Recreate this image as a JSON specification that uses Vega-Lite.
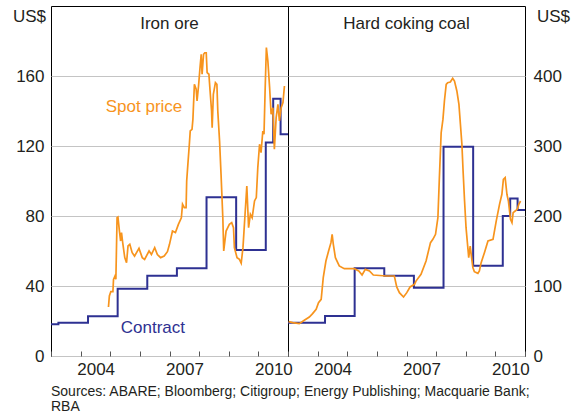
{
  "$schema": "https://vega.github.io/schema/vega-lite/v6.json",
  "background": "white",
  "padding": {"left": 11, "top": 5, "right": 5, "bottom": 0},
  "autosize": {"type": "pad"},
  "config": {
    "font": "Liberation Sans",
    "view": {"stroke": "#000000", "strokeWidth": 1},
    "axis": {"labelFont": "Liberation Sans", "labelFontSize": 17, "labelColor": "#231f20", "titleFont": "Liberation Sans", "titleFontSize": 17, "titleFontWeight": "normal", "titleColor": "#231f20", "domain": false},
    "axisX": {"labelOverlap": false, "labelFlush": false, "labelBound": false, "offset": -5, "tickSize": 5, "ticks": true, "tickColor": "#555555", "labelOffset": 15, "labelPadding": 5},
    "title": {"font": "Liberation Sans", "fontWeight": "normal", "color": "#231f20"}
  },
  "title": {
    "text": ["Sources: ABARE; Bloomberg; Citigroup; Energy Publishing; Macquarie Bank;", "\u00a0\u00a0\u00a0\u00a0\u00a0\u00a0\u00a0\u00a0\u00a0\u00a0\u00a0\u00a0\u00a0\u00a0\u00a0RBA"],
    "orient": "bottom",
    "anchor": "start",
    "frame": "group",
    "fontSize": 14,
    "lineHeight": 15,
    "offset": 7
  },
  "spacing": 0,
  "bounds": "flush",
  "datasets": {
    "iron": [
      {"s": "Contract", "year": 2003.0, "value": 18.1},
      {"s": "Contract", "year": 2003.25, "value": 19.0},
      {"s": "Contract", "year": 2004.25, "value": 22.7},
      {"s": "Contract", "year": 2005.25, "value": 38.5},
      {"s": "Contract", "year": 2006.25, "value": 45.9},
      {"s": "Contract", "year": 2007.25, "value": 50.1},
      {"s": "Contract", "year": 2008.25, "value": 90.7},
      {"s": "Contract", "year": 2009.25, "value": 60.6},
      {"s": "Contract", "year": 2010.25, "value": 122},
      {"s": "Contract", "year": 2010.5, "value": 147},
      {"s": "Contract", "year": 2010.75, "value": 126.7},
      {"s": "Contract", "year": 2011.0, "value": 126.7},
      {"s": "Spot", "year": 2004.94, "value": 28},
      {"s": "Spot", "year": 2004.97, "value": 34.3},
      {"s": "Spot", "year": 2005.02, "value": 36.8},
      {"s": "Spot", "year": 2005.09, "value": 36.8},
      {"s": "Spot", "year": 2005.11, "value": 43.8},
      {"s": "Spot", "year": 2005.17, "value": 46.1},
      {"s": "Spot", "year": 2005.19, "value": 43.8},
      {"s": "Spot", "year": 2005.23, "value": 79},
      {"s": "Spot", "year": 2005.26, "value": 79.4},
      {"s": "Spot", "year": 2005.31, "value": 71.4},
      {"s": "Spot", "year": 2005.35, "value": 65.7},
      {"s": "Spot", "year": 2005.38, "value": 70.5},
      {"s": "Spot", "year": 2005.42, "value": 64.8},
      {"s": "Spot", "year": 2005.49, "value": 56.2},
      {"s": "Spot", "year": 2005.55, "value": 53.3},
      {"s": "Spot", "year": 2005.6, "value": 62.9},
      {"s": "Spot", "year": 2005.66, "value": 63.8},
      {"s": "Spot", "year": 2005.74, "value": 59},
      {"s": "Spot", "year": 2005.82, "value": 57.1},
      {"s": "Spot", "year": 2005.97, "value": 61.5},
      {"s": "Spot", "year": 2006.08, "value": 56.2},
      {"s": "Spot", "year": 2006.16, "value": 55.2},
      {"s": "Spot", "year": 2006.31, "value": 60},
      {"s": "Spot", "year": 2006.39, "value": 58},
      {"s": "Spot", "year": 2006.5, "value": 61.9},
      {"s": "Spot", "year": 2006.59, "value": 58},
      {"s": "Spot", "year": 2006.7, "value": 56.2},
      {"s": "Spot", "year": 2006.82, "value": 57.1},
      {"s": "Spot", "year": 2006.93, "value": 59.6},
      {"s": "Spot", "year": 2007.0, "value": 63.8},
      {"s": "Spot", "year": 2007.1, "value": 71.4},
      {"s": "Spot", "year": 2007.2, "value": 70.5},
      {"s": "Spot", "year": 2007.3, "value": 75.2},
      {"s": "Spot", "year": 2007.4, "value": 79},
      {"s": "Spot", "year": 2007.44, "value": 86.7},
      {"s": "Spot", "year": 2007.5, "value": 84.8},
      {"s": "Spot", "year": 2007.56, "value": 84.8},
      {"s": "Spot", "year": 2007.58, "value": 100},
      {"s": "Spot", "year": 2007.62, "value": 109.5},
      {"s": "Spot", "year": 2007.67, "value": 121},
      {"s": "Spot", "year": 2007.7, "value": 128.6},
      {"s": "Spot", "year": 2007.76, "value": 129.5},
      {"s": "Spot", "year": 2007.79, "value": 135.2},
      {"s": "Spot", "year": 2007.84, "value": 155.2},
      {"s": "Spot", "year": 2007.9, "value": 152.4},
      {"s": "Spot", "year": 2007.93, "value": 145.7},
      {"s": "Spot", "year": 2007.98, "value": 154.3},
      {"s": "Spot", "year": 2008.03, "value": 164.8},
      {"s": "Spot", "year": 2008.07, "value": 172.4},
      {"s": "Spot", "year": 2008.1, "value": 161},
      {"s": "Spot", "year": 2008.15, "value": 172.4},
      {"s": "Spot", "year": 2008.19, "value": 173.3},
      {"s": "Spot", "year": 2008.24, "value": 173.3},
      {"s": "Spot", "year": 2008.27, "value": 161.9},
      {"s": "Spot", "year": 2008.33, "value": 161},
      {"s": "Spot", "year": 2008.37, "value": 151.4},
      {"s": "Spot", "year": 2008.42, "value": 140},
      {"s": "Spot", "year": 2008.44, "value": 130.5},
      {"s": "Spot", "year": 2008.48, "value": 149.5},
      {"s": "Spot", "year": 2008.55, "value": 156.2},
      {"s": "Spot", "year": 2008.6, "value": 155.2},
      {"s": "Spot", "year": 2008.63, "value": 140},
      {"s": "Spot", "year": 2008.69, "value": 122.9},
      {"s": "Spot", "year": 2008.74, "value": 103.8},
      {"s": "Spot", "year": 2008.8, "value": 79},
      {"s": "Spot", "year": 2008.83, "value": 60},
      {"s": "Spot", "year": 2008.91, "value": 71.4},
      {"s": "Spot", "year": 2009.02, "value": 75.2},
      {"s": "Spot", "year": 2009.1, "value": 76.2},
      {"s": "Spot", "year": 2009.16, "value": 73.3},
      {"s": "Spot", "year": 2009.19, "value": 61.9},
      {"s": "Spot", "year": 2009.28, "value": 56.2},
      {"s": "Spot", "year": 2009.36, "value": 55.2},
      {"s": "Spot", "year": 2009.42, "value": 53},
      {"s": "Spot", "year": 2009.48, "value": 61.9},
      {"s": "Spot", "year": 2009.55, "value": 81},
      {"s": "Spot", "year": 2009.61, "value": 97.1},
      {"s": "Spot", "year": 2009.67, "value": 73.3},
      {"s": "Spot", "year": 2009.73, "value": 81},
      {"s": "Spot", "year": 2009.79, "value": 79},
      {"s": "Spot", "year": 2009.87, "value": 88.6},
      {"s": "Spot", "year": 2009.93, "value": 90.5},
      {"s": "Spot", "year": 2009.98, "value": 107.6},
      {"s": "Spot", "year": 2010.04, "value": 121},
      {"s": "Spot", "year": 2010.09, "value": 116.2},
      {"s": "Spot", "year": 2010.15, "value": 128.6},
      {"s": "Spot", "year": 2010.19, "value": 126.7},
      {"s": "Spot", "year": 2010.23, "value": 153.3},
      {"s": "Spot", "year": 2010.27, "value": 176.2},
      {"s": "Spot", "year": 2010.32, "value": 168.6},
      {"s": "Spot", "year": 2010.38, "value": 153.3},
      {"s": "Spot", "year": 2010.43, "value": 138.1},
      {"s": "Spot", "year": 2010.49, "value": 141.9},
      {"s": "Spot", "year": 2010.54, "value": 118.1},
      {"s": "Spot", "year": 2010.6, "value": 136.2},
      {"s": "Spot", "year": 2010.66, "value": 143.8},
      {"s": "Spot", "year": 2010.71, "value": 134.3},
      {"s": "Spot", "year": 2010.77, "value": 141.9},
      {"s": "Spot", "year": 2010.83, "value": 144.8},
      {"s": "Spot", "year": 2010.88, "value": 154.3}
    ],
    "coal": [
      {"s": "Contract", "year": 2003.0, "value": 47.6},
      {"s": "Contract", "year": 2004.25, "value": 57.1},
      {"s": "Contract", "year": 2005.25, "value": 125.2},
      {"s": "Contract", "year": 2006.25, "value": 114.8},
      {"s": "Contract", "year": 2007.25, "value": 97.6},
      {"s": "Contract", "year": 2008.25, "value": 299},
      {"s": "Contract", "year": 2009.25, "value": 129},
      {"s": "Contract", "year": 2010.25, "value": 200},
      {"s": "Contract", "year": 2010.5, "value": 225},
      {"s": "Contract", "year": 2010.75, "value": 208.6},
      {"s": "Contract", "year": 2011.0, "value": 208.6},
      {"s": "Spot", "year": 2003.02, "value": 49},
      {"s": "Spot", "year": 2003.16, "value": 47.6},
      {"s": "Spot", "year": 2003.38, "value": 46.2},
      {"s": "Spot", "year": 2003.55, "value": 51},
      {"s": "Spot", "year": 2003.72, "value": 55.7},
      {"s": "Spot", "year": 2003.83, "value": 60.5},
      {"s": "Spot", "year": 2003.95, "value": 66.7},
      {"s": "Spot", "year": 2004.03, "value": 76.2},
      {"s": "Spot", "year": 2004.12, "value": 81},
      {"s": "Spot", "year": 2004.19, "value": 111.9},
      {"s": "Spot", "year": 2004.28, "value": 135.7},
      {"s": "Spot", "year": 2004.37, "value": 150},
      {"s": "Spot", "year": 2004.45, "value": 161.9},
      {"s": "Spot", "year": 2004.49, "value": 173.8},
      {"s": "Spot", "year": 2004.53, "value": 159.5},
      {"s": "Spot", "year": 2004.6, "value": 140.5},
      {"s": "Spot", "year": 2004.73, "value": 128.6},
      {"s": "Spot", "year": 2004.9, "value": 124.8},
      {"s": "Spot", "year": 2005.24, "value": 124.8},
      {"s": "Spot", "year": 2005.39, "value": 121.4},
      {"s": "Spot", "year": 2005.5, "value": 115.7},
      {"s": "Spot", "year": 2005.61, "value": 123.8},
      {"s": "Spot", "year": 2005.75, "value": 121.4},
      {"s": "Spot", "year": 2005.88, "value": 115.7},
      {"s": "Spot", "year": 2006.31, "value": 114.3},
      {"s": "Spot", "year": 2006.59, "value": 114.3},
      {"s": "Spot", "year": 2006.67, "value": 98.6},
      {"s": "Spot", "year": 2006.76, "value": 90.5},
      {"s": "Spot", "year": 2006.9, "value": 84.3},
      {"s": "Spot", "year": 2007.01, "value": 90.5},
      {"s": "Spot", "year": 2007.12, "value": 98.6},
      {"s": "Spot", "year": 2007.27, "value": 102.4},
      {"s": "Spot", "year": 2007.32, "value": 107},
      {"s": "Spot", "year": 2007.49, "value": 116.7},
      {"s": "Spot", "year": 2007.66, "value": 135.7},
      {"s": "Spot", "year": 2007.81, "value": 161.9},
      {"s": "Spot", "year": 2007.89, "value": 166.7},
      {"s": "Spot", "year": 2007.98, "value": 173.8},
      {"s": "Spot", "year": 2008.06, "value": 197.6},
      {"s": "Spot", "year": 2008.11, "value": 254.8},
      {"s": "Spot", "year": 2008.17, "value": 319},
      {"s": "Spot", "year": 2008.23, "value": 338},
      {"s": "Spot", "year": 2008.28, "value": 364.3},
      {"s": "Spot", "year": 2008.34, "value": 388},
      {"s": "Spot", "year": 2008.39, "value": 390.5},
      {"s": "Spot", "year": 2008.48, "value": 391.4},
      {"s": "Spot", "year": 2008.56, "value": 396.7},
      {"s": "Spot", "year": 2008.62, "value": 392.9},
      {"s": "Spot", "year": 2008.7, "value": 378.6},
      {"s": "Spot", "year": 2008.77, "value": 359.5},
      {"s": "Spot", "year": 2008.82, "value": 331},
      {"s": "Spot", "year": 2008.87, "value": 302.4},
      {"s": "Spot", "year": 2008.91, "value": 264.3},
      {"s": "Spot", "year": 2008.96, "value": 221.4},
      {"s": "Spot", "year": 2009.01, "value": 183.3},
      {"s": "Spot", "year": 2009.07, "value": 154.8},
      {"s": "Spot", "year": 2009.1, "value": 140.5},
      {"s": "Spot", "year": 2009.15, "value": 157.1},
      {"s": "Spot", "year": 2009.19, "value": 142.9},
      {"s": "Spot", "year": 2009.24, "value": 126.2},
      {"s": "Spot", "year": 2009.29, "value": 120.5},
      {"s": "Spot", "year": 2009.41, "value": 118.1},
      {"s": "Spot", "year": 2009.46, "value": 121.4},
      {"s": "Spot", "year": 2009.52, "value": 133.3},
      {"s": "Spot", "year": 2009.63, "value": 147.6},
      {"s": "Spot", "year": 2009.75, "value": 164.3},
      {"s": "Spot", "year": 2009.92, "value": 166.7},
      {"s": "Spot", "year": 2010.03, "value": 192.9},
      {"s": "Spot", "year": 2010.14, "value": 216.7},
      {"s": "Spot", "year": 2010.22, "value": 231},
      {"s": "Spot", "year": 2010.27, "value": 252.4},
      {"s": "Spot", "year": 2010.33, "value": 254.8},
      {"s": "Spot", "year": 2010.39, "value": 231},
      {"s": "Spot", "year": 2010.44, "value": 221.4},
      {"s": "Spot", "year": 2010.51, "value": 195.2},
      {"s": "Spot", "year": 2010.56, "value": 190.5},
      {"s": "Spot", "year": 2010.6, "value": 204.8},
      {"s": "Spot", "year": 2010.67, "value": 207.1},
      {"s": "Spot", "year": 2010.74, "value": 209.5},
      {"s": "Spot", "year": 2010.79, "value": 216.7},
      {"s": "Spot", "year": 2010.85, "value": 221.4}
    ],
    "labels": [
      {"s": "Spot", "label": "Spot price", "year": 2006.14, "value": 142.3},
      {"s": "Contract", "label": "Contract", "year": 2006.44, "value": 16.2}
    ]
  },
  "hconcat": [
    {
      "width": 237,
      "height": 350,
      "title": {"text": "Iron ore", "fontSize": 17, "anchor": "middle", "baseline": "middle", "offset": -35},
      "encoding": {
        "x": {"field": "year", "type": "quantitative", "scale": {"domain": [2003, 2011], "nice": false, "zero": false},
          "axis": {"values": [2003, 2004, 2005, 2006, 2007, 2008, 2009, 2010, 2011], "format": "d", "labelExpr": "(datum.value == 2004 || datum.value == 2007 || datum.value == 2010) ? datum.label : ''", "grid": false, "title": null}},
        "y": {"field": "value", "type": "quantitative", "scale": {"domain": [0, 200], "nice": false},
          "axis": {"values": [0, 40, 80, 120, 160], "grid": true, "gridColor": "#c4c4c4", "ticks": false, "labelPadding": 7, "title": "US$", "titleAngle": 0, "titleX": -22, "titleY": 10, "titleAlign": "center", "titleBaseline": "middle"}}
      },
      "layer": [
        {
          "data": {"name": "iron"},
          "transform": [{"filter": "datum.s == 'Contract'"}],
          "mark": {"type": "line", "interpolate": "step-after", "color": "#2e3192", "strokeWidth": 2}
        },
        {
          "data": {"name": "iron"},
          "transform": [{"filter": "datum.s == 'Spot'"}],
          "mark": {"type": "line", "color": "#f7941d", "strokeWidth": 1.7}
        },
        {
          "data": {"name": "labels"},
          "mark": {"type": "text", "fontSize": 17, "align": "center", "baseline": "middle", "font": "Liberation Sans"},
          "encoding": {
            "text": {"field": "label"},
            "color": {"field": "s", "type": "nominal", "scale": {"domain": ["Contract", "Spot"], "range": ["#2e3192", "#f7941d"]}, "legend": null}
          }
        }
      ]
    },
    {
      "width": 237,
      "height": 350,
      "title": {"text": "Hard coking coal", "fontSize": 17, "anchor": "middle", "baseline": "middle", "offset": -35},
      "encoding": {
        "x": {"field": "year", "type": "quantitative", "scale": {"domain": [2003, 2011], "nice": false, "zero": false},
          "axis": {"values": [2003, 2004, 2005, 2006, 2007, 2008, 2009, 2010, 2011], "format": "d", "labelExpr": "(datum.value == 2004 || datum.value == 2007 || datum.value == 2010) ? datum.label : ''", "grid": false, "title": null}},
        "y": {"field": "value", "type": "quantitative", "scale": {"domain": [0, 500], "nice": false},
          "axis": {"orient": "right", "values": [0, 100, 200, 300, 400], "grid": true, "gridColor": "#c4c4c4", "ticks": false, "labelPadding": 8, "title": "US$", "titleAngle": 0, "titleX": 28, "titleY": 10, "titleAlign": "center", "titleBaseline": "middle"}}
      },
      "layer": [
        {
          "data": {"name": "coal"},
          "transform": [{"filter": "datum.s == 'Contract'"}],
          "mark": {"type": "line", "interpolate": "step-after", "color": "#2e3192", "strokeWidth": 2}
        },
        {
          "data": {"name": "coal"},
          "transform": [{"filter": "datum.s == 'Spot'"}],
          "mark": {"type": "line", "color": "#f7941d", "strokeWidth": 1.7}
        }
      ]
    }
  ]
}
